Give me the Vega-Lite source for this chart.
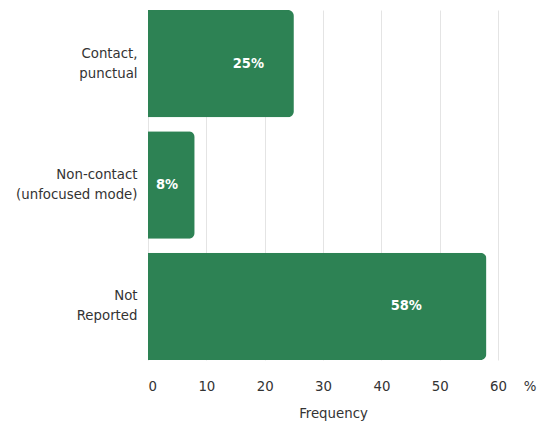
{
  "$schema": "https://vega.github.io/schema/vega-lite/v6.json",
  "width": 388,
  "height": 350,
  "autosize": "none",
  "padding": {"left": 148, "top": 10, "right": 18, "bottom": 66},
  "background": "white",
  "config": {"view": {"stroke": null}, "font": "DejaVu Sans Condensed, Roboto Condensed, Open Sans Condensed, Roboto, sans-serif"},
  "data": {"values": [
    {"category": "Contact,|punctual", "value": 25},
    {"category": "Non-contact|(unfocused mode)", "value": 8},
    {"category": "Not|Reported", "value": 58}
  ]},
  "encoding": {
    "y": {
      "field": "category", "type": "nominal", "sort": null,
      "scale": {"paddingInner": 0.115, "paddingOuter": 0},
      "axis": {
        "title": null, "ticks": false, "domain": false, "grid": false,
        "labelExpr": "split(datum.label, '|')",
        "labelFontSize": 14.8, "labelLineHeight": 20, "labelPadding": 11, "labelOffset": -10,
        "labelColor": "#333333", "labelLimit": 300
      }
    }
  },
  "layer": [
    {
      "mark": {"type": "bar", "color": "#2d8254", "cornerRadiusTopRight": 6, "cornerRadiusBottomRight": 6},
      "encoding": {
        "x": {
          "field": "value", "type": "quantitative",
          "scale": {"domain": [0, 66.5], "nice": false},
          "axis": {
            "values": [0, 10, 20, 30, 40, 50, 60, 66.5],
            "labelExpr": "datum.value > 61 ? '%' : datum.label",
            "grid": true,
            "gridColor": {"condition": {"test": "datum.value > 61", "value": "transparent"}, "value": "#e4e4e4"},
            "domain": false, "ticks": false,
            "labelPadding": 18, "labelFontSize": 14.8, "labelColor": "#333333",
            "title": "Frequency", "titleFontSize": 14.8, "titleFontWeight": "normal",
            "titleColor": "#333333", "titlePadding": 13, "titleX": 185
          }
        }
      }
    },
    {
      "transform": [
        {"calculate": "datum.value * 0.82 - 3.3", "as": "labelX"},
        {"calculate": "datum.value + '%'", "as": "labelText"}
      ],
      "mark": {"type": "text", "color": "white", "fontWeight": "bold", "fontSize": 14.5, "align": "center", "baseline": "middle"},
      "encoding": {
        "x": {"field": "labelX", "type": "quantitative"},
        "text": {"field": "labelText"}
      }
    }
  ]
}
